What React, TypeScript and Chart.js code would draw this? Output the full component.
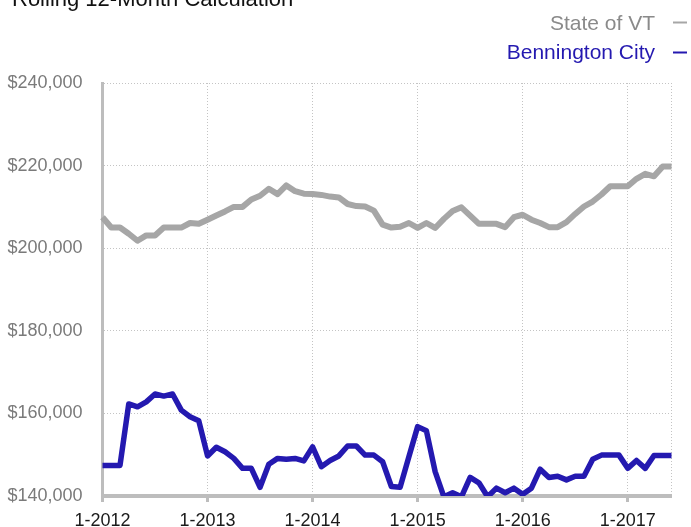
import React, { useEffect, useRef } from 'react';
import { Chart, registerables } from 'chart.js';

Chart.register(...registerables);

const chartTitle = 'Rolling 12-Month Calculation';

const months = [
  '1-2012', '2-2012', '3-2012', '4-2012', '5-2012', '6-2012', '7-2012', '8-2012', '9-2012', '10-2012', '11-2012', '12-2012',
  '1-2013', '2-2013', '3-2013', '4-2013', '5-2013', '6-2013', '7-2013', '8-2013', '9-2013', '10-2013', '11-2013', '12-2013',
  '1-2014', '2-2014', '3-2014', '4-2014', '5-2014', '6-2014', '7-2014', '8-2014', '9-2014', '10-2014', '11-2014', '12-2014',
  '1-2015', '2-2015', '3-2015', '4-2015', '5-2015', '6-2015', '7-2015', '8-2015', '9-2015', '10-2015', '11-2015', '12-2015',
  '1-2016', '2-2016', '3-2016', '4-2016', '5-2016', '6-2016', '7-2016', '8-2016', '9-2016', '10-2016', '11-2016', '12-2016',
  '1-2017', '2-2017', '3-2017', '4-2017', '5-2017', '6-2017',
];

const xTickLabels = ['1-2012', '1-2013', '1-2014', '1-2015', '1-2016', '1-2017'];

const stateOfVT = [
  207500, 205000, 205000, 203500, 201800, 203100, 203100, 205000, 205000, 205000, 206100, 205900,
  206900, 207900, 208900, 210000, 210000, 211800, 212700, 214400, 213100, 215200, 213800, 213200,
  213100, 212900, 212500, 212300, 210700, 210200, 210100, 209100, 205700, 205000, 205200, 206100,
  204900, 206100, 204900, 207100, 209000, 209900, 207900, 205900, 205900, 205900, 205100, 207500,
  208100, 206900, 206100, 205100, 205100, 206300, 208300, 210100, 211300, 213000, 215000, 215000,
  215000, 216800, 218000, 217400, 219800, 219800,
];

const benningtonCity = [
  147400, 147400, 147400, 162300, 161600, 162800, 164700, 164200, 164700, 160800, 159200, 158200,
  149700, 151800, 150700, 149100, 146700, 146700, 142100, 147700, 149100, 148900, 149100, 148500,
  151900, 147100, 148600, 149700, 152100, 152100, 149900, 149900, 148300, 142300, 142100, 149500,
  156800, 155800, 145900, 139800, 140800, 139800, 144500, 143200, 139800, 141900, 140800, 141900,
  140400, 141900, 146500, 144500, 144800, 143900, 144800, 144800, 148900, 149900, 149900, 149900,
  146700, 148600, 146700, 149800, 149800, 149800,
];

const seriesNames = ['State of VT', 'Bennington City'];
const seriesColors = ['#a6a6a6', '#2419b0'];
const legendTextColors = ['#8a8a8a', '#2419b0'];

const yMin = 140000;
const yMax = 240000;
const yStep = 20000;

const FONT = '"Liberation Sans", Arial, Helvetica, sans-serif';
const CANVAS_W = 691;
const CANVAS_H = 545;
const PLOT_BOTTOM = 496;

const overlayPlugin = {
  id: 'overlay',
  afterDraw(chart: any) {
    const ctx = chart.ctx as CanvasRenderingContext2D;
    ctx.save();
    ctx.font = `22px ${FONT}`;
    ctx.fillStyle = '#111111';
    ctx.textAlign = 'left';
    ctx.textBaseline = 'alphabetic';
    ctx.fillText(chartTitle, 12, 6);

    ctx.font = `21px ${FONT}`;
    ctx.textAlign = 'right';
    const baselines = [29.5, 59];
    const dashYs = [22.5, 52.5];
    seriesNames.forEach((name, i) => {
      ctx.fillStyle = legendTextColors[i];
      ctx.fillText(name, 655, baselines[i]);
      ctx.strokeStyle = seriesColors[i];
      ctx.lineWidth = 2;
      ctx.beginPath();
      ctx.moveTo(673, dashYs[i]);
      ctx.lineTo(687, dashYs[i]);
      ctx.stroke();
    });
    ctx.restore();
  },
};

export default function App() {
  const canvasRef = useRef<HTMLCanvasElement | null>(null);

  useEffect(() => {
    document.body.style.margin = '0';
    document.body.style.overflow = 'hidden';
    const canvas = canvasRef.current;
    if (!canvas) return;
    const chart = new Chart(canvas, {
      type: 'line',
      data: {
        labels: months,
        datasets: [
          {
            label: seriesNames[0],
            data: stateOfVT,
            borderColor: seriesColors[0],
            backgroundColor: seriesColors[0],
            borderWidth: 6,
            pointRadius: 0,
            tension: 0,
            borderJoinStyle: 'round',
          },
          {
            label: seriesNames[1],
            data: benningtonCity,
            borderColor: seriesColors[1],
            backgroundColor: seriesColors[1],
            borderWidth: 5.5,
            pointRadius: 0,
            tension: 0,
            borderJoinStyle: 'round',
          },
        ],
      },
      options: {
        animation: false,
        responsive: false,
        maintainAspectRatio: false,
        devicePixelRatio: 1,
        layout: { padding: { top: 83, right: 19.5, left: 0, bottom: 0 } },
        plugins: {
          legend: { display: false },
          title: { display: false },
          tooltip: { enabled: false },
        },
        scales: {
          x: {
            type: 'category',
            offset: false,
            grid: {
              drawOnChartArea: true,
              drawTicks: true,
              tickLength: 6,
              tickWidth: 3,
              lineWidth: 1,
              color: (c: any) => {
                const i = c.index;
                if (i === 0) return 'rgba(0,0,0,0)';
                if (i % 12 === 0 || i === months.length - 1) return '#c4c4c4';
                return 'rgba(0,0,0,0)';
              },
              tickColor: (c: any) => (c.index % 12 === 0 ? '#bdbdbd' : 'rgba(0,0,0,0)'),
            },
            border: { display: true, color: '#bdbdbd', width: 4, dash: [1, 2] },
            ticks: {
              autoSkip: false,
              maxRotation: 0,
              minRotation: 0,
              padding: 8,
              color: '#1a1a1a',
              font: { family: FONT, size: 18 },
              callback: (_v: any, i: number) => (xTickLabels.includes(months[i]) ? months[i] : ''),
            },
            afterFit: (scale: any) => {
              scale.height = CANVAS_H - PLOT_BOTTOM;
            },
          },
          y: {
            min: yMin,
            max: yMax,
            grid: {
              drawTicks: false,
              lineWidth: 1,
              color: (c: any) => (c.tick && c.tick.value === yMin ? 'rgba(0,0,0,0)' : '#c4c4c4'),
            },
            border: { display: true, color: '#bdbdbd', width: 3, dash: [1, 2] },
            ticks: {
              stepSize: yStep,
              padding: 20,
              color: '#7a7a7a',
              font: { family: FONT, size: 18 },
              callback: (v: any) => '$' + Number(v).toLocaleString('en-US'),
            },
            afterFit: (scale: any) => {
              scale.width = 102.5;
            },
          },
        },
      },
      plugins: [overlayPlugin],
    } as any);
    return () => chart.destroy();
  }, []);

  return (
    <div style={{ position: 'relative', width: CANVAS_W, height: 527, overflow: 'hidden' }}>
      <canvas
        ref={canvasRef}
        width={CANVAS_W}
        height={CANVAS_H}
        style={{ display: 'block', width: CANVAS_W, height: CANVAS_H }}
      />
    </div>
  );
}
